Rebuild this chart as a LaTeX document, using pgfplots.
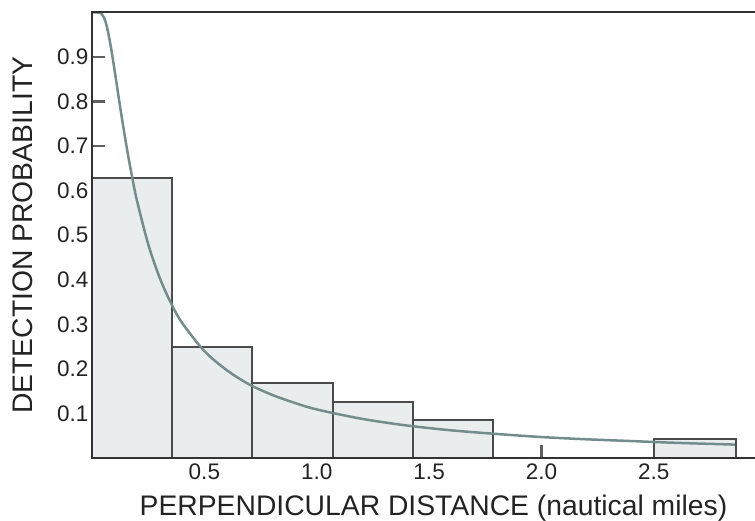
\documentclass[border=0pt]{standalone}
\usepackage{fontspec}
\setmainfont{Liberation Sans}
\usepackage{pgfplots}
\pgfplotsset{compat=1.18}
\definecolor{axisgray}{RGB}{50,50,50}
\definecolor{textgray}{RGB}{35,35,35}
\definecolor{barfill}{RGB}{234,237,238}
\definecolor{baredge}{RGB}{75,75,75}
\definecolor{curvecol}{RGB}{115,140,140}
\definecolor{tickgray}{RGB}{95,95,95}
\begin{document}
\begin{tikzpicture}[x=1pt,y=1pt]
\path[use as bounding box] (0,0) rectangle (755,521);
\begin{axis}[
  at={(92pt,63pt)}, anchor=south west,
  scale only axis, width=663pt, height=445.5pt,
  xmin=0, xmax=2.95, ymin=0, ymax=1.0,
  axis line style={draw=none},
  xtick={0.5,1.0,1.5,2.0,2.5},
  ytick={0.1,0.2,0.3,0.4,0.5,0.6,0.7,0.8,0.9},
  xtick pos=bottom, ytick pos=left,
  tick align=inside,
  major tick length=13pt,
  tick style={tickgray, line width=2.3pt},
  /pgf/number format/assume math mode=true,
  /pgf/number format/.cd, fixed, fixed zerofill, precision=1, /pgfplots/.cd,
  ticklabel style={font=\fontsize{22.5}{27}\selectfont, text=textgray},
  xticklabel style={yshift=-2pt},
  xlabel={PERPENDICULAR DISTANCE (nautical miles)},
  ylabel={DETECTION PROBABILITY},
  label style={font=\fontsize{28.3}{32}\selectfont, text=textgray},
  xlabel style={at={(axis description cs:0.515,-0.128)}, anchor=base},
  ylabel style={at={(axis description cs:-0.104,0.5)}, anchor=center, rotate=0},
  clip=false,
]
\addplot[ybar interval, fill=barfill, draw=baredge, line width=2pt] coordinates {
 (0,0.628) (0.357,0.250) (0.714,0.169) (1.071,0.126) (1.428,0.085) (1.785,0.085)
};
\addplot[ybar interval, fill=barfill, draw=baredge, line width=2pt] coordinates {
 (2.5,0.042) (2.865,0.042)
};
\addplot[curvecol, line width=2.5pt, smooth] coordinates {
 (0.00,1.000) (0.02,1.000) (0.04,0.998) (0.06,0.980) (0.08,0.934) (0.10,0.872)
 (0.12,0.805) (0.14,0.741) (0.16,0.681) (0.18,0.627) (0.20,0.578) (0.25,0.480)
 (0.30,0.406) (0.35,0.349) (0.40,0.304) (0.50,0.240) (0.60,0.197) (0.70,0.165)
 (0.80,0.142) (0.90,0.124) (1.00,0.109) (1.20,0.088) (1.40,0.073) (1.60,0.062)
 (1.80,0.054) (2.00,0.047) (2.20,0.042) (2.40,0.038) (2.60,0.034) (2.80,0.031)
 (2.86,0.030)
};
\draw[axisgray, line width=2pt] (rel axis cs:1,0) -- (rel axis cs:0,0) -- (rel axis cs:0,1) -- (rel axis cs:1,1);
\end{axis}
\end{tikzpicture}
\end{document}
